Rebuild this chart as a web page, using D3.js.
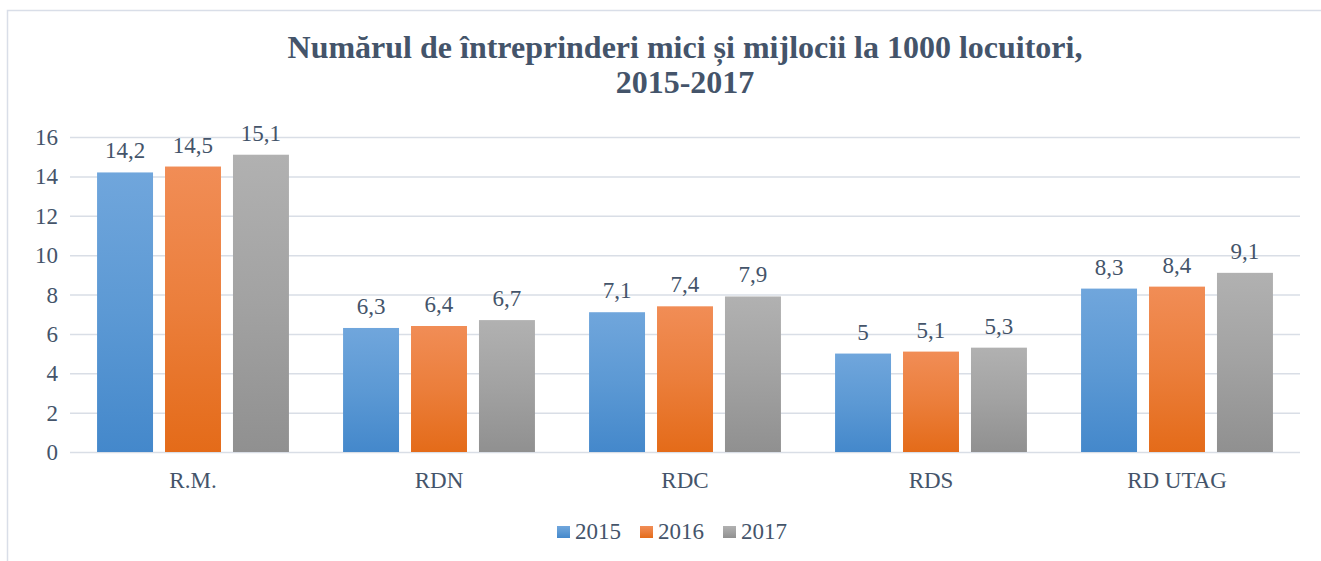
<!DOCTYPE html>
<html><head><meta charset="utf-8">
<script src="https://cdn.jsdelivr.net/npm/d3@7"></script>
<style>body{margin:0;background:#fff}svg{display:block}</style>
</head><body>
<svg id="c" width="1321" height="561"></svg>
<script>
const categories = ["R.M.", "RDN", "RDC", "RDS", "RD UTAG"];
const years = ["2015", "2016", "2017"];
const v2015 = [14.2, 6.3, 7.1, 5.0, 8.3];
const v2016 = [14.5, 6.4, 7.4, 5.1, 8.4];
const v2017 = [15.1, 6.7, 7.9, 5.3, 9.1];
const yTicks = [0, 2, 4, 6, 8, 10, 12, 14, 16];
const titleLines = ["Numărul de întreprinderi mici și mijlocii la 1000 locuitori,", "2015-2017"];

(function () {
const series = [v2015, v2016, v2017];
const grads = [["#70A6DC", "#4488CB"], ["#F18D56", "#E46B19"], ["#B1B1B1", "#909090"]];
const txt = "#44546A";
const font = "'Liberation Serif','Times New Roman',serif";
const fs = 23;

const svg = d3.select("#c");
svg.append("rect").attr("x", 7.5).attr("y", 10.5).attr("width", 1330).attr("height", 560)
  .attr("fill", "#fff").attr("stroke", "#D9DEE8").attr("stroke-width", 1.5);

const defs = svg.append("defs");
grads.forEach((g, i) => {
  const lg = defs.append("linearGradient").attr("id", "g" + i).attr("x1", 0).attr("y1", 0).attr("x2", 0).attr("y2", 1);
  lg.append("stop").attr("offset", "0%").attr("stop-color", g[0]);
  lg.append("stop").attr("offset", "50%").attr("stop-color", d3.interpolateRgb(g[0], g[1])(0.45));
  lg.append("stop").attr("offset", "100%").attr("stop-color", g[1]);
});

const pLeft = 70, pRight = 1300, pTop = 137, pBottom = 452;
const y = d3.scaleLinear().domain([0, 16]).range([pBottom, pTop]);
const x0 = d3.scaleBand().domain(categories).range([pLeft, pRight]).paddingInner(0.22).paddingOuter(0.11);
const x1 = d3.scaleBand().domain(years).range([0, x0.bandwidth()]).paddingInner(12 / 68).paddingOuter(0);

// title
svg.append("text").attr("text-anchor", "middle")
  .attr("font-family", font).attr("font-weight", "bold").attr("font-size", 32).attr("fill", txt)
  .selectAll("tspan").data(titleLines).join("tspan")
  .attr("x", 685).attr("y", (d, i) => 58 + i * 35).text(d => d);

// grid
const yAxis = svg.append("g").attr("transform", `translate(${pLeft},0)`)
  .call(d3.axisLeft(y).tickValues(yTicks).tickSize(-(pRight - pLeft)).tickPadding(12));
yAxis.select(".domain").remove();
yAxis.selectAll(".tick line").attr("stroke", "#D9DEE6").attr("stroke-width", 1.5);
yAxis.selectAll(".tick text").attr("font-family", font).attr("font-size", fs).attr("fill", txt).attr("dy", "0.33em");

// bars
const groups = svg.append("g").selectAll("g").data(categories).join("g")
  .attr("transform", d => `translate(${x0(d)},0)`);
const rows = (c, ci) => years.map((yr, si) => ({yr, si, v: series[si][ci]}));
groups.selectAll("rect").data(rows).join("rect")
  .attr("x", d => x1(d.yr)).attr("width", x1.bandwidth())
  .attr("y", d => y(d.v)).attr("height", d => y(0) - y(d.v))
  .attr("fill", d => `url(#g${d.si})`);
groups.selectAll("text").data(rows).join("text")
  .attr("x", d => x1(d.yr) + x1.bandwidth() / 2).attr("y", d => y(d.v) - 14)
  .attr("text-anchor", "middle").attr("font-family", font).attr("font-size", fs).attr("fill", txt)
  .text(d => String(d.v).replace(".", ","));

// x axis
const xAxis = svg.append("g").attr("transform", `translate(0,${pBottom})`)
  .call(d3.axisBottom(x0).tickSize(0).tickPadding(20));
xAxis.select(".domain").remove();
xAxis.selectAll(".tick text").attr("font-family", font).attr("font-size", fs).attr("fill", txt);

// legend
const legX = [557, 640, 723];
const leg = svg.append("g").selectAll("g").data(years).join("g")
  .attr("transform", (d, i) => `translate(${legX[i]},539)`);
leg.append("rect").attr("x", 0).attr("y", -13).attr("width", 13).attr("height", 12)
  .attr("fill", (d, i) => `url(#g${i})`);
leg.append("text").attr("x", 18).attr("y", 0)
  .attr("font-family", font).attr("font-size", fs).attr("fill", txt).text(d => d);
})();
</script>
</body></html>
